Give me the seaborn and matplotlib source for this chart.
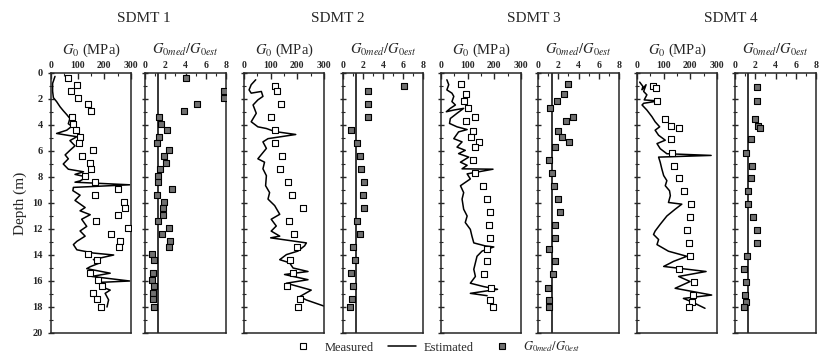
import numpy as np
import pandas as pd
import matplotlib
matplotlib.use("Agg")
import matplotlib.pyplot as plt
import seaborn as sns
from matplotlib.lines import Line2D
from matplotlib.ticker import MultipleLocator

# ---- data ----
# SDMT 1
meas_d1 = [0.4, 0.9, 1.4, 1.9, 2.4, 2.9, 3.4, 3.9, 4.4, 4.9, 5.4, 5.9, 6.4, 6.9, 7.4, 7.9, 8.4, 8.9,
           9.4, 9.9, 10.4, 10.9, 11.4, 11.9, 12.4, 12.9, 13.4, 13.9, 14.4, 15.4, 15.9, 16.4, 16.9, 17.4, 18.0]
meas_g1 = [65, 99, 74, 100, 138, 149, 77, 82, 94, 109, 104, 157, 117, 147, 149, 128, 166, 251,
           166, 272, 279, 251, 168, 289, 225, 260, 256, 140, 172, 147, 178, 191, 159, 172, 189]
est_d1 = [0.26, 0.8, 1.4, 1.9, 2.2, 2.6, 2.9, 3.2, 3.5, 3.9, 4.1, 4.4, 4.65, 4.8, 4.9, 5.2, 5.6, 5.95,
          6.3, 6.6, 7.0, 7.4, 7.6, 7.8, 8.0, 8.3, 8.4, 8.6, 8.8, 9.05, 9.4, 9.8, 10.35, 10.6, 10.9,
          11.25, 11.8, 12.15, 12.55, 12.95, 13.2, 13.6, 13.85, 14.0, 14.35, 14.6, 14.9, 15.05, 15.4,
          15.65, 16.0, 16.1, 16.4, 16.7, 16.95, 17.45, 18.0]
est_g1 = [15, 6, 6, 9, 21, 34, 46, 59, 71, 65, 78, 59, 21, 65, 97, 71, 90, 71,
          53, 65, 46, 65, 122, 90, 134, 109, 90, 295, 84, 82, 109, 90, 128, 109, 147,
          115, 134, 109, 128, 97, 84, 97, 159, 235, 159, 184, 147, 134, 222,
          153, 295, 191, 184, 222, 203, 216, 210]
ratio_d1 = [0.4, 1.4, 1.9, 2.4, 2.9, 3.4, 3.9, 4.4, 4.9, 5.4, 5.9, 6.4, 6.9, 7.4, 7.9, 8.4, 8.9, 9.4,
            9.9, 10.4, 10.9, 11.4, 11.9, 12.4, 12.9, 13.4, 13.9, 14.4, 15.4, 15.9, 16.4, 16.9, 17.4, 18.0]
ratio_1 = [4.0, 7.8, 7.8, 5.1, 3.9, 1.35, 1.55, 2.2, 1.35, 1.15, 2.35, 1.85, 2.05, 1.5, 1.25, 1.3, 2.65, 1.2,
           1.85, 1.75, 1.75, 1.3, 2.35, 1.7, 2.5, 2.35, 0.7, 0.9, 0.75, 0.7, 0.9, 0.8, 0.75, 0.85]
ref_1 = 1.25

# SDMT 2
meas_d2 = [1.03, 1.42, 2.4, 3.4, 4.4, 5.4, 6.4, 7.4, 8.4, 9.4, 10.4, 11.4, 12.4, 13.4, 14.4, 15.4, 16.4, 17.4, 18.0]
meas_g2 = [115, 124, 137, 102, 115, 115, 144, 134, 166, 179, 221, 169, 187, 199, 174, 184, 162, 209, 202]
est_d2 = [0.52, 0.9, 1.3, 1.55, 1.42, 1.8, 2.07, 2.46, 3.1, 3.75, 4.14, 4.27, 4.5, 4.73, 5.05, 5.3, 5.8,
          6.6, 6.86, 7.37, 7.9, 8.67, 9.2, 9.7, 10.2, 10.87, 11.25, 11.77, 12.16, 12.55, 12.68, 13.07,
          13.3, 13.7, 13.97, 14.36, 14.6, 15.0, 15.27, 15.5, 15.9, 16.17, 16.7, 17.2, 17.46, 17.93]
est_g2 = [44, 27, 19, 27, 65, 71, 52, 34, 46, 27, 52, 84, 115, 194, 90, 71, 84,
          52, 77, 71, 84, 81, 96, 90, 115, 134, 102, 121, 102, 134, 100, 234,
          227, 202, 159, 134, 171, 184, 240, 152, 240, 159, 252, 209, 234, 300]
ratio_d2 = meas_d2
ratio_2 = [6.1, 2.45, 2.5, 2.5, 0.8, 1.4, 1.65, 1.75, 2.05, 1.95, 2.05, 1.4, 1.65, 0.95, 1.15, 0.8, 0.95, 0.9, 0.65]
ref_2 = 1.3

# SDMT 3
meas_d3 = [0.83, 1.58, 2.12, 2.72, 3.42, 3.7, 4.45, 4.92, 5.3, 5.7, 6.73, 7.71, 8.69, 9.7, 10.69,
           11.7, 12.68, 13.5, 14.49, 15.47, 16.5, 17.46, 17.98]
meas_g3 = [75, 94, 88, 101, 129, 95, 119, 114, 144, 129, 119, 129, 156, 172, 185,
           180, 182, 172, 172, 160, 188, 182, 195]
est_d3 = [0.52, 0.9, 1.3, 1.55, 1.8, 2.2, 2.46, 2.72, 2.98, 2.85, 2.72, 3.1, 3.5, 3.88, 4.14, 4.35, 4.53,
          5.05, 5.3, 5.7, 5.95, 6.2, 6.47, 6.86, 7.1, 7.37, 7.4, 7.76, 8.15, 8.67, 9.2, 9.7, 10.48,
          11.0, 11.5, 12.03, 12.55, 13.07, 13.3, 13.38, 13.7, 14.1, 14.6, 15.1, 15.65, 16.17, 16.43,
          16.64, 16.95, 17.13]
est_g3 = [22, 29, 22, 41, 48, 41, 54, 35, 20, 48, 85, 60, 35, 32, 60, 98, 66,
          48, 79, 60, 91, 66, 104, 73, 98, 79, 195, 98, 110, 73, 85, 79, 85,
          98, 91, 110, 116, 123, 166, 198, 154, 135, 129, 123, 129, 110, 160,
          212, 110, 173]
ratio_d3 = meas_d3
ratio_3 = [3.0, 2.55, 1.85, 1.15, 3.5, 2.75, 1.95, 2.4, 3.1, 1.65, 1.05, 1.35, 1.55, 1.95, 2.15,
           1.65, 1.65, 1.05, 1.65, 1.45, 0.95, 1.05, 1.05]
ref_3 = 1.4

# SDMT 4
meas_d4 = [1.03, 1.16, 2.12, 3.54, 4.09, 4.2, 5.1, 6.13, 7.12, 8.1, 9.1, 10.09, 11.07, 12.08, 13.07,
           14.1, 15.08, 16.07, 17.08, 17.65, 17.98]
meas_g4 = [60, 71, 75, 106, 128, 158, 127, 131, 139, 158, 178, 202, 199, 187, 194,
           197, 157, 214, 209, 205, 196]
est_d4 = [0.7, 1.03, 1.29, 0.9, 1.42, 1.68, 2.07, 2.15, 2.33, 2.46, 2.85, 3.36, 3.75, 4.14, 4.4, 4.79,
          5.17, 5.43, 5.82, 6.21, 6.34, 6.47, 6.86, 7.37, 7.89, 8.28, 8.67, 9.06, 9.44, 9.96, 10.09,
          10.48, 11.0, 11.64, 12.16, 12.42, 12.81, 13.2, 13.71, 14.1, 14.49, 14.62, 14.88, 15.27,
          15.65, 16.04, 16.56, 17.08, 17.34, 17.6, 18.1]
est_g4 = [10, 22, 19, 34, 25, 37, 27, 81, 25, 19, 37, 56, 68, 85, 68, 81,
          106, 75, 87, 112, 278, 81, 87, 93, 100, 112, 106, 122, 125, 118, 168,
          143, 112, 87, 68, 62, 81, 75, 118, 187, 137, 125, 100, 259,
          156, 199, 143, 280, 174, 205, 255]
ratio_d4 = [1.09, 2.12, 3.54, 4.09, 4.2, 5.1, 6.13, 7.12, 8.1, 9.1, 10.09, 11.07, 12.08, 13.07,
            14.1, 15.08, 16.07, 17.08, 17.65, 17.98]
ratio_4 = [2.2, 2.2, 2.0, 2.25, 2.5, 1.6, 1.1, 1.65, 1.6, 1.3, 1.3, 1.75, 2.2, 2.2,
           1.15, 0.9, 1.1, 1.0, 1.1, 0.9]
ref_4 = 1.3

titles = ["SDMT 1", "SDMT 2", "SDMT 3", "SDMT 4"]

sns.set_style("ticks")
plt.rcParams["font.family"] = ["Liberation Serif", "DejaVu Serif"]
plt.rcParams["mathtext.fontset"] = "stix"

fig = plt.figure(figsize=(8.33, 3.61), dpi=100)
W, H = 833, 361
lefts = [51, 145, 244, 343, 441, 538, 637, 735]
rights = [131, 226, 324, 423, 521, 619, 717, 816]
top, bot = 73, 333
title_x = [144, 338, 534, 731]

groups = [
    (meas_d1, meas_g1, est_d1, est_g1, ratio_d1, ratio_1, ref_1),
    (meas_d2, meas_g2, est_d2, est_g2, ratio_d2, ratio_2, ref_2),
    (meas_d3, meas_g3, est_d3, est_g3, ratio_d3, ratio_3, ref_3),
    (meas_d4, meas_g4, est_d4, est_g4, ratio_d4, ratio_4, ref_4),
]


def style_axis(ax, xmax, xstep, xminor, first):
    ax.set_xlim(0, xmax)
    ax.set_ylim(20, 0)
    ax.xaxis.tick_top()
    ax.xaxis.set_label_position("top")
    ax.xaxis.set_major_locator(MultipleLocator(xstep))
    ax.xaxis.set_minor_locator(MultipleLocator(xminor))
    ax.yaxis.set_major_locator(MultipleLocator(2))
    ax.yaxis.set_minor_locator(MultipleLocator(1))
    ax.tick_params(axis="x", which="major", direction="in", length=4, width=1, pad=2, labelsize=7)
    ax.tick_params(axis="x", which="minor", direction="in", length=2.5, width=0.8)
    ax.tick_params(axis="y", which="major", direction="inout", length=5, width=1, labelsize=7.5)
    ax.tick_params(axis="y", which="minor", direction="inout", length=3, width=0.8)
    for lab in ax.get_xticklabels() + ax.get_yticklabels():
        lab.set_fontweight("bold")
    if not first:
        ax.tick_params(axis="y", labelleft=False)
    for s in ax.spines.values():
        s.set_linewidth(1.1)
        s.set_visible(True)


for i, (md, mg, ed, eg, rd, rv, ref) in enumerate(groups):
    ax1 = fig.add_axes([lefts[2 * i] / W, 1 - bot / H, (rights[2 * i] - lefts[2 * i]) / W, (bot - top) / H])
    ax2 = fig.add_axes([lefts[2 * i + 1] / W, 1 - bot / H, (rights[2 * i + 1] - lefts[2 * i + 1]) / W, (bot - top) / H])

    est = pd.DataFrame({"g": eg, "d": ed})
    sns.lineplot(data=est, x="g", y="d", sort=False, estimator=None, color="black", lw=1.1, ax=ax1)
    meas = pd.DataFrame({"g": mg, "d": md})
    sns.scatterplot(data=meas, x="g", y="d", marker="s", s=24, facecolor="white",
                    edgecolor="black", linewidth=0.8, ax=ax1, zorder=3)
    rat = pd.DataFrame({"r": rv, "d": rd})
    ax2.axvline(ref, color="black", lw=1.1)
    sns.scatterplot(data=rat, x="r", y="d", marker="s", s=24, facecolor="#707070",
                    edgecolor="black", linewidth=0.8, ax=ax2, zorder=3)

    style_axis(ax1, 300, 100, 50, i == 0)
    style_axis(ax2, 8, 2, 1, False)
    ax1.set_xlabel(r"$G_0$ (MPa)", fontsize=10.5, labelpad=5)
    ax2.set_xlabel(r"$G_{0med}/G_{0est}$", fontsize=10.5, labelpad=5)
    ax1.set_ylabel("Depth (m)" if i == 0 else "", fontsize=11)
    ax2.set_ylabel("")
    fig.text(title_x[i] / W, 1 - 18 / H, titles[i], ha="center", va="center", fontsize=11)

handles = [
    Line2D([], [], ls="none", marker="s", ms=5, mfc="white", mec="black", mew=0.8),
    Line2D([], [], color="black", lw=1.1),
    Line2D([], [], ls="none", marker="s", ms=5, mfc="#707070", mec="black", mew=0.8),
]
labels = ["Measured", "Estimated", r"$G_{0med}/G_{0est}$"]
fig.legend(handles, labels, loc="center", bbox_to_anchor=(435 / W, 1 - 347 / H), ncol=3,
           frameon=False, fontsize=9, handlelength=2.2, columnspacing=1.2, handletextpad=0.6)

fig.savefig("out.png", dpi=100)
